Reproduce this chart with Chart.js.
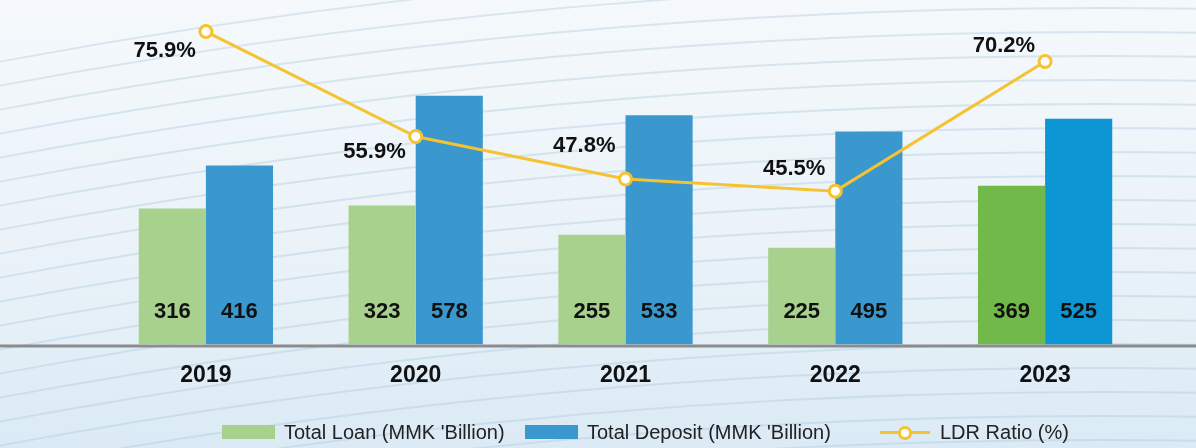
<!DOCTYPE html>
<html>
<head>
<meta charset="utf-8">
<script src="https://cdn.jsdelivr.net/npm/chart.js@4.4.1/dist/chart.umd.min.js"></script>
<style>
  html, body { margin: 0; padding: 0; }
  #wrap { position: relative; width: 1196px; height: 448px; overflow: hidden; }
  #chart { position: absolute; left: 0; top: 0; }
  #legend { position: absolute; left: 0; top: 419px; width: 1196px; height: 26px;
    font-family: "Liberation Sans", Arial, sans-serif; font-size: 20px; color: #222; }
  .item { position: absolute; top: 0; display: flex; align-items: center; height: 26px; }
  .box { width: 53px; height: 14px; margin-right: 9px; }
  .lineIcon { width: 50px; height: 14px; margin-right: 10px; position: relative; }
  .lineIcon:before { content: ""; position: absolute; left: 0; right: 0; top: 6px; height: 3px; background: #f5c331; }
  .lineIcon:after { content: ""; position: absolute; left: 18px; top: 1px; width: 8px; height: 8px;
    border: 3px solid #f5c331; border-radius: 50%; background: #fff; }
</style>
</head>
<body>
<div id="wrap">
  <canvas id="chart" width="1196" height="448"></canvas>
  <div id="legend">
    <div class="item" style="left:222px"><span class="box" style="background:#a9d18e"></span>Total Loan (MMK 'Billion)</div>
    <div class="item" style="left:525px"><span class="box" style="background:#3a98cf"></span>Total Deposit (MMK 'Billion)</div>
    <div class="item" style="left:880px"><span class="lineIcon"></span>LDR Ratio (%)</div>
  </div>
</div>
<script>
// data
const years = ['2019', '2020', '2021', '2022', '2023'];
const totalLoan = [316, 323, 255, 225, 369];
const totalDeposit = [416, 578, 533, 495, 525];
const ldrRatio = [75.9, 55.9, 47.8, 45.5, 70.2];

// vertical offset of each % label from its point
const pctOffsetY = [19, 15, -33, -22, -16];

const loanColors = ['#a9d18e', '#a9d18e', '#a9d18e', '#a9d18e', '#70b94a'];
const depositColors = ['#3a98cf', '#3a98cf', '#3a98cf', '#3a98cf', '#0d96d4'];
const FONT = '"Liberation Sans", Arial, sans-serif';

// background with soft arcs
const bgPlugin = {
    id: 'bg',
    beforeDraw(chart) {
        const c = chart.ctx, w = chart.width, h = chart.height;
        c.save();
        const g = c.createLinearGradient(0, 0, 0, h);
        g.addColorStop(0, '#f5f9fc');
        g.addColorStop(0.6, '#e9f2f8');
        g.addColorStop(1, '#dbeaf5');
        c.fillStyle = g;
        c.fillRect(0, 0, w, h);
        c.strokeStyle = 'rgba(175, 202, 222, 0.42)';
        c.lineWidth = 1.8;
        for (let i = 0; i < 26; i++) {
            c.beginPath();
            c.arc(1100, 6000 - 40 + i * 24, 6000, Math.PI * 1.35, Math.PI * 1.65);
            c.stroke();
        }
        c.restore();
    }
};

// full-width axis line
const axisPlugin = {
    id: 'axisLine',
    beforeDatasetsDraw(chart) {
        const c = chart.ctx;
        const y = chart.chartArea.bottom + 1.5;
        c.save();
        c.strokeStyle = '#8c8c8c';
        c.lineWidth = 3;
        c.beginPath();
        c.moveTo(0, y);
        c.lineTo(chart.width, y);
        c.stroke();
        c.restore();
    }
};

// value labels
const labelPlugin = {
    id: 'labels',
    afterDatasetsDraw(chart) {
        const c = chart.ctx;
        c.save();
        c.font = 'bold 22px ' + FONT;
        c.fillStyle = '#111';
        c.textBaseline = 'middle';
        [0, 1].forEach(di => {
            const meta = chart.getDatasetMeta(di);
            c.textAlign = 'center';
            meta.data.forEach((bar, i) => {
                c.fillText(chart.data.datasets[di].data[i], bar.x, chart.chartArea.bottom - 32);
            });
        });
        const lm = chart.getDatasetMeta(2);
        c.textAlign = 'right';
        lm.data.forEach((pt, i) => {
            c.fillText(ldrRatio[i].toFixed(1) + '%', pt.x - 10, pt.y + pctOffsetY[i]);
        });
        c.restore();
    }
};

new Chart(document.getElementById('chart').getContext('2d'), {
    type: 'bar',
    data: {
        labels: years,
        datasets: [
            {
                label: "Total Loan (MMK 'Billion)",
                data: totalLoan,
                backgroundColor: loanColors,
                yAxisID: 'y',
                order: 2,
                barPercentage: 1.0,
                categoryPercentage: 0.64
            },
            {
                label: "Total Deposit (MMK 'Billion)",
                data: totalDeposit,
                backgroundColor: depositColors,
                yAxisID: 'y',
                order: 2,
                barPercentage: 1.0,
                categoryPercentage: 0.64
            },
            {
                type: 'line',
                label: 'LDR Ratio (%)',
                data: ldrRatio,
                yAxisID: 'y1',
                order: 1,
                borderColor: '#f5c331',
                borderWidth: 3,
                pointRadius: 6,
                pointBorderWidth: 3,
                pointBackgroundColor: '#ffffff',
                pointBorderColor: '#f5c331',
                tension: 0
            }
        ]
    },
    options: {
        responsive: false,
        animation: false,
        layout: { padding: { left: 101, right: 46, top: 0, bottom: 50 } },
        plugins: { legend: { display: false }, tooltip: { enabled: false } },
        scales: {
            x: {
                grid: { display: false },
                border: { display: false },
                ticks: { color: '#111', padding: 9, font: { family: FONT, size: 23, weight: 'bold' } }
            },
            y: { display: false, min: 0, max: 780 },
            y1: { display: false, min: 16.3, max: 80.2 }
        }
    },
    plugins: [bgPlugin, axisPlugin, labelPlugin]
});
</script>
</body>
</html>
